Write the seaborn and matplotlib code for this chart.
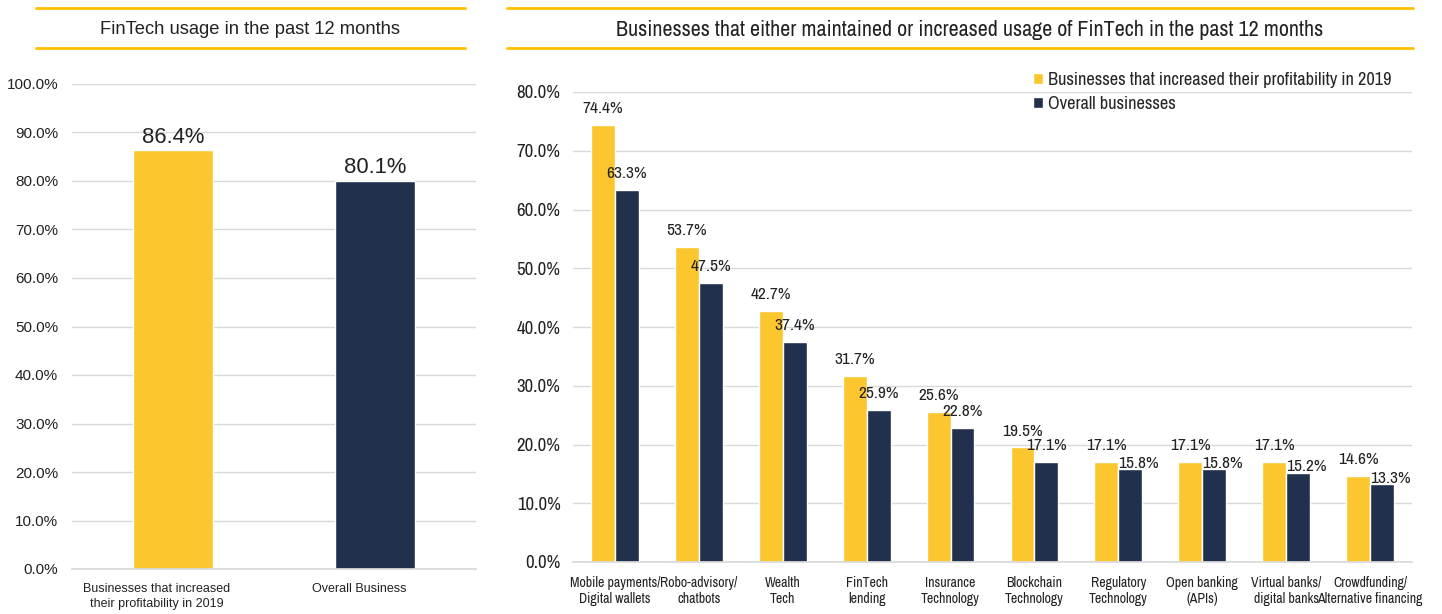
import matplotlib
matplotlib.use("Agg")
import matplotlib.pyplot as plt
import matplotlib.transforms as mtransforms
import seaborn as sns
import pandas as pd
from matplotlib.lines import Line2D
from matplotlib.patches import Patch

sns.set_theme(style="white")
REG = ["Liberation Sans", "DejaVu Sans"]
NAR = ["Archivo Narrow", "Liberation Sans", "DejaVu Sans"]
plt.rcParams["font.family"] = REG

YELLOW = "#FCC62F"
NAVY = "#21304C"
LINE = "#FFC000"
TXT = "#222222"

# ---- data ----
left_title = "FinTech usage in the past 12 months"
left_cats = ["Businesses that increased\ntheir profitability in 2019", "Overall Business"]
left_vals = [86.4, 80.1]

right_title = "Businesses that either maintained or increased usage of FinTech in the past 12 months"
right_cats = ["Mobile payments/\nDigital wallets", "Robo-advisory/\nchatbots", "Wealth\nTech",
              "FinTech\nlending", "Insurance\nTechnology", "Blockchain\nTechnology",
              "Regulatory\nTechnology", "Open banking\n(APIs)", "Virtual banks/\ndigital banks",
              "Crowdfunding/\nAlternative financing"]
series_names = ["Businesses that increased their profitability in 2019", "Overall businesses"]
inc_vals = [74.4, 53.7, 42.7, 31.7, 25.6, 19.5, 17.1, 17.1, 17.1, 14.6]
all_vals = [63.3, 47.5, 37.4, 25.9, 22.8, 17.1, 15.8, 15.8, 15.2, 13.3]

W, H = 1442, 614
fig = plt.figure(figsize=(W / 100, H / 100), dpi=100)

def fx(px):
    return px / W

def fy(py):
    return 1 - py / H

# ---- left panel ----
axL = fig.add_axes([fx(72), fy(569), fx(476 - 72), (569 - 84) / H])
dfL = pd.DataFrame({"cat": left_cats, "val": left_vals})
sns.barplot(data=dfL, x="cat", y="val", hue="cat", palette=[YELLOW, NAVY],
            width=0.4, legend=False, ax=axL, saturation=1)
axL.set_ylim(0, 100)
axL.set_xlim(-0.5, 1.5)
axL.set_yticks(range(0, 101, 10))
axL.set_yticklabels([f"{v:.1f}%" for v in range(0, 101, 10)], fontsize=11, color=TXT)
axL.tick_params(axis="x", labelsize=9, colors=TXT, length=0, pad=10)
axL.tick_params(axis="y", length=0, pad=10)
shift = mtransforms.ScaledTranslation(-16 / 100, 0, fig.dpi_scale_trans)
for lab in axL.get_xticklabels():
    lab.set_linespacing(1.35)
    lab.set_transform(lab.get_transform() + shift)
axL.grid(axis="y", color="#D9D9D9", linewidth=1)
axL.set_axisbelow(True)
for s in ["top", "right", "left"]:
    axL.spines[s].set_visible(False)
axL.spines["bottom"].set_color("#D9D9D9")
axL.set_xlabel("")
axL.set_ylabel("")
for i, v in enumerate(left_vals):
    axL.text(i, v + 0.5, f"{v:.1f}%", ha="center", va="bottom", fontsize=15.8, color=TXT)

# ---- right panel ----
axR = fig.add_axes([fx(573), fy(562), fx(1412 - 573), (562 - 92) / H])
dfR = pd.DataFrame({
    "cat": right_cats * 2,
    "series": [series_names[0]] * len(right_cats) + [series_names[1]] * len(right_cats),
    "val": inc_vals + all_vals,
})
sns.barplot(data=dfR, x="cat", y="val", hue="series", palette=[YELLOW, NAVY],
            width=0.57, gap=0, ax=axR, saturation=1)
axR.set_ylim(0, 80)
axR.set_xlim(-0.5, len(right_cats) - 0.5)
axR.set_yticks(range(0, 81, 10))
axR.set_yticklabels([f"{v:.1f}%" for v in range(0, 81, 10)], fontsize=13.5, color=TXT, family=NAR)
for lab in axR.get_xticklabels():
    lab.set_family(NAR)
axR.tick_params(axis="x", labelsize=10, colors=TXT, length=0, pad=10)
axR.tick_params(axis="y", length=0, pad=9)
axR.grid(axis="y", color="#D9D9D9", linewidth=1)
axR.set_axisbelow(True)
for s in ["top", "right", "left"]:
    axR.spines[s].set_visible(False)
axR.spines["bottom"].set_color("#D9D9D9")
axR.set_xlabel("")
axR.set_ylabel("")
bw = 0.57 / 2
for i, (a, b) in enumerate(zip(inc_vals, all_vals)):
    axR.text(i - bw / 2, a + 1.5, f"{a:.1f}%", ha="center", va="bottom", fontsize=12.5, color=TXT, family=NAR)
    close = (a - b) < 2.0
    bx = i + bw / 2 + (0.1 if close else 0)
    by = b + (-0.3 if close else 1.5)
    axR.text(bx, by, f"{b:.1f}%", ha="center", va="bottom", fontsize=12.5, color=TXT, family=NAR)

handles = [Patch(facecolor=YELLOW), Patch(facecolor=NAVY)]
axR.legend(handles, series_names, loc="upper left", bbox_to_anchor=(fx(1026 - 573) / fx(1412 - 573), 1.058),
           frameon=False, prop={"family": NAR, "size": 13.2}, handlelength=0.55, handleheight=0.55,
           handletextpad=0.25, labelspacing=0.42, borderaxespad=0)

# ---- titles and rule lines ----
for x0, x1 in [(36, 465), (507, 1413)]:
    for yy in (8, 48):
        fig.add_artist(Line2D([fx(x0), fx(x1)], [fy(yy), fy(yy)], color=LINE, linewidth=2))
fig.text(fx(250), fy(30), left_title, ha="center", va="center", fontsize=13.2, color=TXT)
fig.text(fx(970), fy(30), right_title, ha="center", va="center", fontsize=15.9, color=TXT, family=NAR)

fig.savefig("out.png", dpi=100, facecolor="white")
